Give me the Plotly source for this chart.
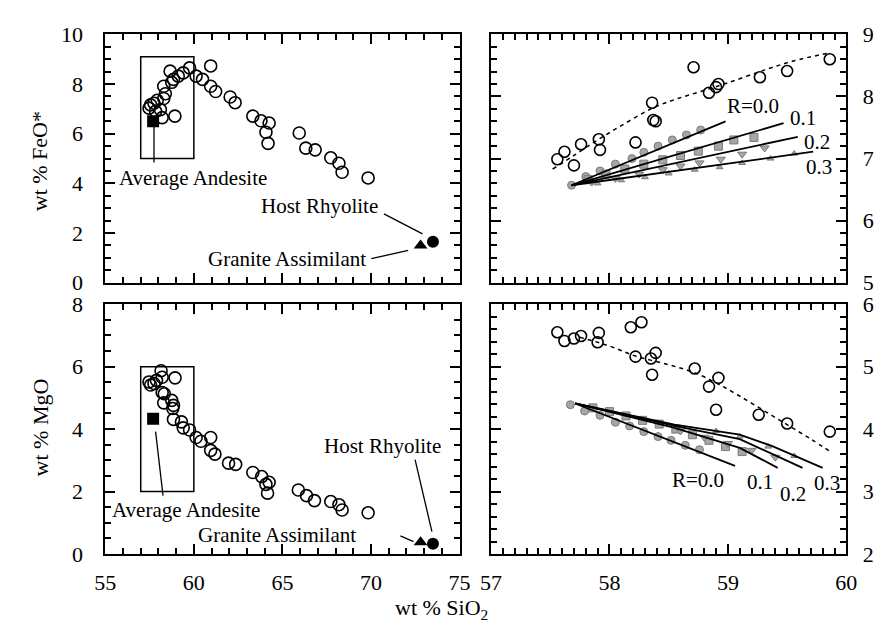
import plotly.graph_objects as go

# ---------------- data ----------------
tl_sio2 = [57.47, 57.56, 57.75, 57.84, 57.93, 58.11, 58.21, 58.30, 58.30, 58.39, 58.66, 58.75,
           58.85, 58.93, 59.12, 59.40, 59.76, 60.13, 60.49, 60.95, 60.95, 61.23, 62.05, 62.33,
           63.33, 63.79, 64.25, 64.07, 64.19, 65.95, 66.32, 66.85, 67.73, 68.19, 68.37, 69.84]
tl_feo = [7.03, 7.16, 7.23, 6.90, 7.35, 6.97, 6.65, 7.42, 7.91, 7.61, 8.52, 8.07,
          8.19, 6.71, 8.32, 8.45, 8.65, 8.32, 8.19, 8.73, 7.91, 7.70, 7.48, 7.25,
          6.71, 6.52, 6.43, 6.06, 5.61, 6.03, 5.42, 5.35, 5.03, 4.81, 4.45, 4.22]
bl_sio2 = [58.15, 58.21, 58.94, 57.47, 57.56, 57.75, 57.89, 58.21, 58.33, 58.30, 58.75, 58.85,
           58.81, 58.85, 59.30, 59.40, 59.76, 60.13, 60.40, 60.95, 60.95, 61.19, 61.96, 62.36,
           63.33, 63.83, 64.25, 64.07, 64.16, 65.90, 66.36, 66.81, 67.73, 68.19, 68.37, 69.84]
bl_mgo = [5.87, 5.66, 5.64, 5.51, 5.41, 5.46, 5.56, 5.17, 5.13, 4.84, 4.92, 4.76,
          4.66, 4.31, 4.23, 4.04, 3.97, 3.73, 3.61, 3.73, 3.32, 3.20, 2.91, 2.87,
          2.61, 2.48, 2.30, 2.23, 1.95, 2.05, 1.87, 1.71, 1.68, 1.58, 1.41, 1.32]

andesite_sio2 = [57.70]
andesite_feo = [6.50]
andesite_mgo = [4.33]
granite_sio2 = [72.8]
granite_feo = [1.50]
granite_mgo = [0.38]
rhyolite_sio2 = [73.5]
rhyolite_feo = [1.65]
rhyolite_mgo = [0.33]

tr_sio2 = [57.56, 57.62, 57.70, 57.76, 57.91, 57.92, 58.22, 58.36, 58.37, 58.39, 58.71,
           58.84, 58.90, 58.92, 59.27, 59.50, 59.86]
tr_feo = [6.99, 7.11, 6.89, 7.23, 7.31, 7.14, 7.26, 7.90, 7.62, 7.60, 8.47,
          8.06, 8.15, 8.20, 8.31, 8.41, 8.60]
tr_trend_x = [57.52, 57.70, 57.90, 58.10, 58.35, 58.55, 58.77, 59.00, 59.30, 59.55, 59.85]
tr_trend_y = [6.83, 7.05, 7.30, 7.53, 7.80, 7.95, 8.08, 8.22, 8.42, 8.57, 8.70]

br_sio2 = [57.56, 57.62, 57.70, 57.76, 57.91, 57.90, 58.18, 58.27, 58.22, 58.35, 58.39,
           58.36, 58.72, 58.84, 58.92, 58.90, 59.26, 59.50, 59.86]
br_mgo = [5.55, 5.41, 5.45, 5.49, 5.54, 5.39, 5.63, 5.71, 5.16, 5.13, 5.22,
          4.87, 4.97, 4.68, 4.82, 4.31, 4.23, 4.09, 3.96]
br_trend_x = [57.75, 58.00, 58.22, 58.50, 58.71, 58.90, 59.08, 59.30, 59.50, 59.70, 59.88]
br_trend_y = [5.47, 5.33, 5.17, 5.03, 4.91, 4.74, 4.55, 4.30, 4.07, 3.84, 3.62]

r_labels = ["R=0.0", "0.1", "0.2", "0.3"]
tr_model_x = [[57.68, 58.98], [57.68, 59.47], [57.68, 59.59], [57.68, 59.72]]
tr_model_y = [[6.57, 7.60], [6.57, 7.57], [6.57, 7.35], [6.57, 7.11]]
br_model_x = [[57.71, 59.06],
              [57.71, 58.55, 59.10, 59.42],
              [57.71, 58.55, 59.10, 59.63],
              [57.71, 58.55, 59.10, 59.37, 59.80]]
br_model_y = [[4.41, 3.41],
              [4.41, 4.02, 3.70, 3.38],
              [4.41, 4.05, 3.84, 3.38],
              [4.41, 4.07, 3.91, 3.73, 3.38]]

tr_step_x = [[57.68, 57.80, 57.92, 58.05, 58.19, 58.29, 58.41, 58.53, 58.65, 58.77],
             [57.82, 57.97, 58.13, 58.29, 58.45, 58.60, 58.75, 58.92, 59.05, 59.22],
             [57.85, 58.05, 58.25, 58.45, 58.60, 58.76, 58.94, 59.12, 59.31],
             [57.90, 58.10, 58.30, 58.50, 58.72, 58.93, 59.12, 59.36, 59.56]]
tr_step_y = [[6.57, 6.71, 6.80, 6.91, 7.00, 7.10, 7.20, 7.30, 7.38, 7.46],
             [6.66, 6.75, 6.83, 6.91, 6.98, 7.05, 7.12, 7.20, 7.30, 7.34],
             [6.62, 6.68, 6.75, 6.82, 6.88, 6.93, 6.99, 7.07, 7.17],
             [6.60, 6.65, 6.70, 6.76, 6.82, 6.86, 6.93, 7.00, 7.08]]
br_step_x = [[57.67, 57.79, 57.92, 58.05, 58.17, 58.29, 58.41, 58.52, 58.64, 58.76],
             [57.86, 58.00, 58.14, 58.28, 58.42, 58.56, 58.70, 58.84, 58.98, 59.12],
             [58.60, 58.80, 59.00, 59.20, 59.40],
             [58.90, 59.10, 59.34, 59.56]]
br_step_y = [[4.39, 4.29, 4.22, 4.11, 4.05, 3.96, 3.88, 3.82, 3.74, 3.67],
             [4.34, 4.28, 4.21, 4.14, 4.08, 4.00, 3.91, 3.82, 3.72, 3.64],
             [3.97, 3.87, 3.77, 3.66, 3.55],
             [3.97, 3.88, 3.72, 3.57]]
step_symbols = ["circle", "square", "triangle-down", "triangle-up"]

# ---------------- figure ----------------
FONT = "Liberation Serif"
fig = go.Figure()

def open_circles(x, y, xa, ya, size):
    fig.add_trace(go.Scatter(x=x, y=y, mode="markers", xaxis=xa, yaxis=ya,
                             marker=dict(symbol="circle-open", size=size, color="black",
                                         line=dict(width=1.6, color="black"))))

def solid(x, y, xa, ya, sym, size):
    fig.add_trace(go.Scatter(x=x, y=y, mode="markers", xaxis=xa, yaxis=ya,
                             marker=dict(symbol=sym, size=size, color="black")))

open_circles(tl_sio2, tl_feo, "x", "y", 12)
solid(andesite_sio2, andesite_feo, "x", "y", "square", 12)
solid(granite_sio2, granite_feo, "x", "y", "triangle-up", 12)
solid(rhyolite_sio2, rhyolite_feo, "x", "y", "circle", 12)
open_circles(bl_sio2, bl_mgo, "x3", "y3", 12)
solid(andesite_sio2, andesite_mgo, "x3", "y3", "square", 12)
solid(granite_sio2, granite_mgo, "x3", "y3", "triangle-up", 12)
solid(rhyolite_sio2, rhyolite_mgo, "x3", "y3", "circle", 12)

for xs, ys, mx, my, xa, ya in [(tr_step_x, tr_step_y, tr_model_x, tr_model_y, "x2", "y2"),
                               (br_step_x, br_step_y, br_model_x, br_model_y, "x4", "y4")]:
    for i in range(4):
        fig.add_trace(go.Scatter(x=xs[i], y=ys[i], mode="markers", xaxis=xa, yaxis=ya,
                                 marker=dict(symbol=step_symbols[i], size=8 if i < 3 else 6,
                                             color="#a6a6a6", line=dict(width=1, color="#7a7a7a"))))
    for i in range(4):
        fig.add_trace(go.Scatter(x=mx[i], y=my[i], mode="lines", xaxis=xa, yaxis=ya,
                                 line=dict(color="black", width=1.8)))

fig.add_trace(go.Scatter(x=tr_trend_x, y=tr_trend_y, mode="lines", xaxis="x2", yaxis="y2",
                         line=dict(color="black", width=1.5, dash="4px,4px", shape="spline")))
fig.add_trace(go.Scatter(x=br_trend_x, y=br_trend_y, mode="lines", xaxis="x4", yaxis="y4",
                         line=dict(color="black", width=1.5, dash="4px,4px", shape="spline")))
open_circles(tr_sio2, tr_feo, "x2", "y2", 11)
open_circles(br_sio2, br_mgo, "x4", "y4", 11)

# ---------------- axes ----------------
W, H = 883, 642
def dom_x(a, b):
    return [a / W, b / W]
def dom_y(top, bot):
    return [1 - bot / H, 1 - top / H]

tickfont = dict(family=FONT, size=22, color="black")
def axis(rng, dtick, minor_dtick, domain, show_labels=True, anchor=None, side=None, standoff=None):
    d = dict(range=rng, dtick=dtick, tick0=rng[0], tickmode="linear", domain=domain,
             showgrid=False, zeroline=False, layer="above traces",
             showline=True, linecolor="black", linewidth=1.8, mirror="ticks",
             ticks="inside", ticklen=10, tickwidth=2, tickcolor="black",
             minor=dict(ticks="inside", ticklen=6, tickwidth=1.7, tickcolor="black",
                        tick0=rng[0], dtick=minor_dtick),
             showticklabels=show_labels, tickfont=tickfont, anchor=anchor)
    if side:
        d["side"] = side
    if standoff is not None:
        d["ticklabelstandoff"] = standoff
    return d

xl = dom_x(96.7, 460)
xr = dom_x(492.3, 856.7)
yt = dom_y(23.3, 281.7)
yb = dom_y(304, 564)

fig.update_layout(
    width=W, height=H, margin=dict(l=0, r=0, t=0, b=0),
    paper_bgcolor="white", plot_bgcolor="white", showlegend=False,
    font=dict(family=FONT, color="black"),
    xaxis=axis([55, 75], 5, 1, xl, show_labels=False, anchor="y"),
    yaxis=axis([0, 10], 2, 0.5, yt, anchor="x", standoff=16),
    xaxis2=axis([57, 60], 1, 0.1, xr, show_labels=False, anchor="y2"),
    yaxis2=axis([5, 9], 1, 0.2, yt, anchor="x2", side="right", standoff=10),
    xaxis3=axis([55, 75], 5, 1, xl, anchor="y3", standoff=8),
    yaxis3=axis([0, 8], 2, 0.5, yb, anchor="x3", standoff=16),
    xaxis4=axis([57, 60], 1, 0.1, xr, anchor="y4", standoff=8),
    yaxis4=axis([2, 6], 1, 0.2, yb, anchor="x4", side="right", standoff=10),
)

fig.add_shape(type="rect", xref="x", yref="y", x0=57, x1=60, y0=5, y1=9.1,
              line=dict(color="black", width=1.5))
fig.add_shape(type="rect", xref="x3", yref="y3", x0=57, x1=60, y0=2, y1=6,
              line=dict(color="black", width=1.5))

leaders = [("x", "y", 57.75, 6.45, 57.75, 4.84),
           ("x", "y", 70.73, 2.77, 72.91, 1.97),
           ("x", "y", 70.02, 0.97, 72.10, 1.30),
           ("x3", "y3", 57.84, 3.92, 58.26, 1.87),
           ("x3", "y3", 72.49, 3.02, 73.44, 0.72),
           ("x3", "y3", 71.66, 0.58, 72.40, 0.40)]
for xr_, yr_, x0, y0, x1, y1 in leaders:
    fig.add_shape(type="line", xref=xr_, yref=yr_, x0=x0, y0=y0, x1=x1, y1=y1,
                  line=dict(color="black", width=1.3))

labfont = dict(family=FONT, size=21, color="black")
texts = [("x", "y", 59.95, 4.22, "Average Andesite"),
         ("x", "y", 67.09, 3.10, "Host Rhyolite"),
         ("x", "y", 65.24, 0.97, "Granite Assimilant"),
         ("x3", "y3", 59.58, 1.41, "Average Andesite"),
         ("x3", "y3", 70.66, 3.47, "Host Rhyolite"),
         ("x3", "y3", 64.70, 0.62, "Granite Assimilant"),
         ("x2", "y2", 59.21, 7.84, r_labels[0]),
         ("x2", "y2", 59.63, 7.66, r_labels[1]),
         ("x2", "y2", 59.75, 7.27, r_labels[2]),
         ("x2", "y2", 59.77, 6.87, r_labels[3]),
         ("x4", "y4", 58.75, 3.19, r_labels[0]),
         ("x4", "y4", 59.27, 3.16, r_labels[1]),
         ("x4", "y4", 59.55, 2.96, r_labels[2]),
         ("x4", "y4", 59.84, 3.14, r_labels[3])]
for xr_, yr_, x, y, t in texts:
    fig.add_annotation(xref=xr_, yref=yr_, x=x, y=y, text=t, showarrow=False, font=labfont,
                       xanchor="center", yanchor="middle")

titlefont = dict(family=FONT, size=22, color="black")
for x, y, t, ang in [(30, 155, "wt % FeO*", -90), (30, 432, "wt % MgO", -90),
                     (441, 621, "wt % SiO<sub>2</sub>", 0)]:
    fig.add_annotation(xref="paper", yref="paper", x=x / W, y=1 - y / H, text=t,
                       textangle=ang, showarrow=False, font=titlefont,
                       xanchor="center", yanchor="middle")

fig.write_html("out.html")
